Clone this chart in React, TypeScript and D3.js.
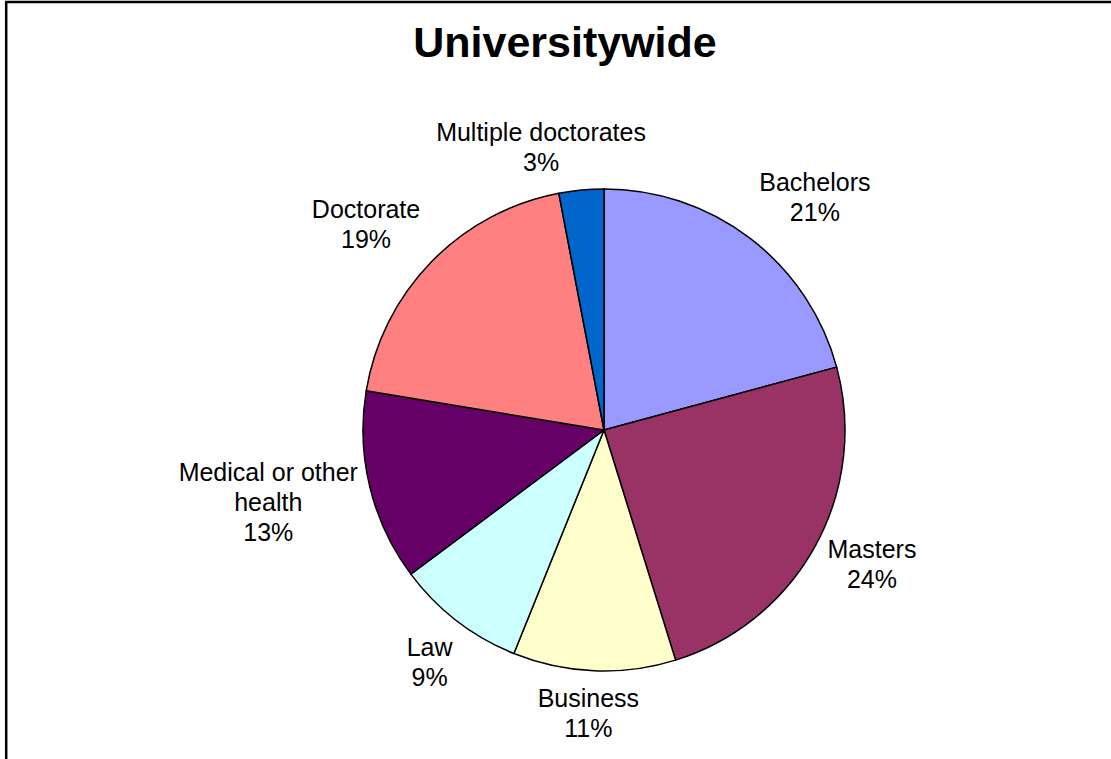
import React from "react";
import * as d3 from "d3";

const categories = ["Bachelors", "Masters", "Business", "Law", "Medical or other health", "Doctorate", "Multiple doctorates"];
const labelLines = [["Bachelors"], ["Masters"], ["Business"], ["Law"], ["Medical or other", "health"], ["Doctorate"], ["Multiple doctorates"]];
const values = [20.8, 24.4, 10.9, 8.7, 12.8, 19.4, 3.0];
const colors = ["#9999FF", "#993366", "#FFFFCC", "#CCFFFF", "#660066", "#FF8080", "#0066CC"];
const title = "Universitywide";

// layout tweaks for label placement (px), mimicking Excel's best-fit
const labelNudge: [number, number][] = [[19, -6], [3, -4], [-3, -3], [-6, 6], [16, 1], [-12, -6], [-27, 2]];

const W = 1111, H = 759;
const cx = 604, cy = 430, R = 241;
const FONT = "'Liberation Sans', Arial, Helvetica, sans-serif";
const LFS = 25, LH = 30, GAP = 15;

export default function App() {
  const total = d3.sum(values);
  const pie = d3.pie<number>().sort(null).value((d) => d).startAngle(0).endAngle(2 * Math.PI);
  const arcs = pie(values);
  const arcGen = d3.arc<d3.PieArcDatum<number>>().innerRadius(0).outerRadius(R);

  return (
    <svg width={W} height={H} style={{ position: "absolute", left: 0, top: 0, background: "#fff" }} fontFamily={FONT}>
      <rect x={0} y={0} width={W} height={H} fill="#fff" />
      <rect x={6.2} y={2} width={W + 20} height={H + 20} fill="none" stroke="#000" strokeWidth={2.5} />
      <text x={565} y={57} textAnchor="middle" fontSize={43} fontWeight="bold" fill="#000">{title}</text>
      <g transform={`translate(${cx},${cy})`}>
        {arcs.map((a, i) => (
          <path key={categories[i]} d={arcGen(a) ?? ""} fill={colors[i]} stroke="#000" strokeWidth={1.5} strokeLinejoin="round" />
        ))}
      </g>
      {arcs.map((a, i) => {
        const lines = [...labelLines[i], `${Math.round((values[i] / total) * 100)}%`];
        const mid = (a.startAngle + a.endAngle) / 2;
        const s = Math.sin(mid), c = Math.cos(mid);
        const px = cx + (R + GAP) * s, py = cy - (R + GAP) * c;
        const w = d3.max(lines, (l) => l.length * 0.53 * LFS) ?? 0;
        const h = lines.length * LH;
        const bx = px + (s * w) / 2 + labelNudge[i][0];
        const by = py - (c * h) / 2 + labelNudge[i][1];
        const n = lines.length;
        return (
          <text key={"l" + i} x={bx} textAnchor="middle" fontSize={LFS} fill="#000">
            {lines.map((l, k) => (
              <tspan key={k} x={bx} y={by + (k - (n - 1) / 2) * LH + 0.35 * LFS}>{l}</tspan>
            ))}
          </text>
        );
      })}
    </svg>
  );
}
